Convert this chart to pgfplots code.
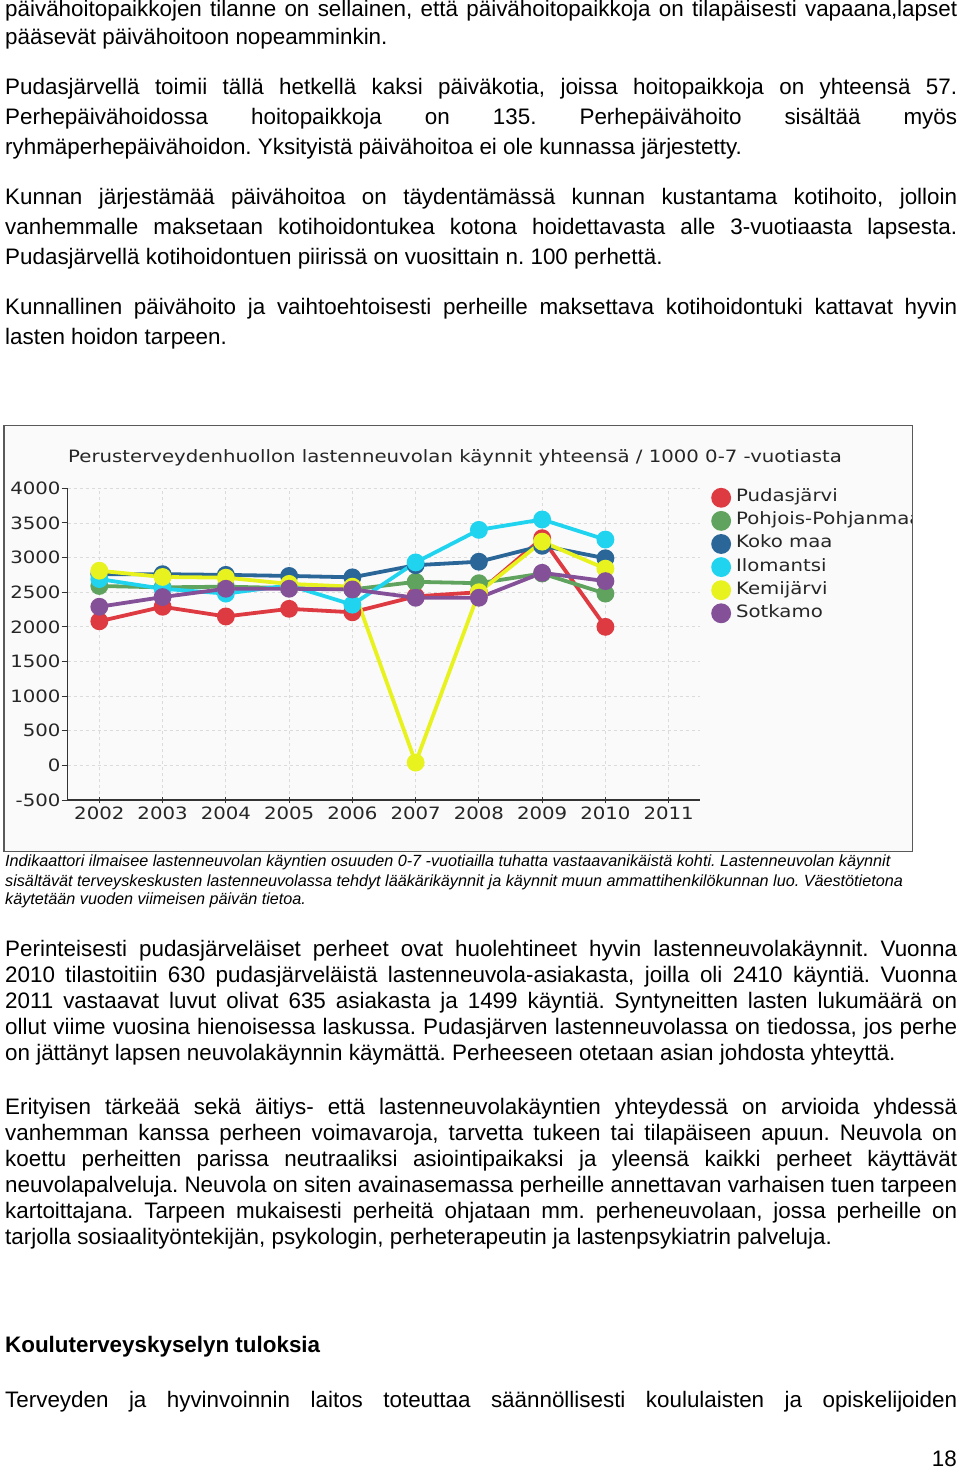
\documentclass[border=0pt]{standalone}
\usepackage{fontspec}
\setmainfont{Liberation Sans}
\newfontfamily\chartfont[FakeStretch=1.16]{DejaVu Sans}
\usepackage{pgfplots}
\pgfplotsset{compat=1.18}
\frenchspacing

\definecolor{cPud}{RGB}{222,58,66}
\definecolor{cPP}{RGB}{95,163,95}
\definecolor{cKoko}{RGB}{43,102,152}
\definecolor{cIlo}{RGB}{32,212,240}
\definecolor{cKemi}{RGB}{232,242,30}
\definecolor{cSot}{RGB}{132,80,152}

% body text: justified line (#1 = baseline y in px) and ragged line
\newcommand\bodyfont{\fontsize{22.4}{26}\selectfont}
\newcommand\jl[2]{\node[anchor=base west,inner sep=0pt,font=\bodyfont] at (5pt,-#1pt) {\makebox[952pt][s]{#2}};}
\newcommand\rl[2]{\node[anchor=base west,inner sep=0pt,font=\bodyfont] at (5pt,-#1pt) {#2};}
\newcommand\cl[2]{\node[anchor=base west,inner sep=0pt,font=\itshape\fontsize{16.2}{19}\selectfont] at (5pt,-#1pt) {#2};}
\newcommand\cf{\chartfont\fontsize{17}{17}\selectfont}

\begin{document}
\begin{tikzpicture}
\path[use as bounding box] (0pt,0pt) rectangle (960pt,-1469pt);

\jl{16.5}{päivähoitopaikkojen tilanne on sellainen, että päivähoitopaikkoja on tilapäisesti vapaana,lapset}
\rl{44.5}{pääsevät päivähoitoon nopeamminkin.}

\jl{94.5}{Pudasjärvellä toimii tällä hetkellä kaksi päiväkotia, joissa hoitopaikkoja on yhteensä 57.}
\jl{124.5}{Perhepäivähoidossa hoitopaikkoja on 135. Perhepäivähoito sisältää myös}
\rl{154.5}{ryhmäperhepäivähoidon. Yksityistä päivähoitoa ei ole kunnassa järjestetty.}

\jl{204.5}{Kunnan järjestämää päivähoitoa on täydentämässä kunnan kustantama kotihoito, jolloin}
\jl{234.5}{vanhemmalle maksetaan kotihoidontukea kotona hoidettavasta alle 3-vuotiaasta lapsesta.}
\rl{264.5}{Pudasjärvellä kotihoidontuen piirissä on vuosittain n. 100 perhettä.}

\jl{314.5}{Kunnallinen päivähoito ja vaihtoehtoisesti perheille maksettava kotihoidontuki kattavat hyvin}
\rl{344.5}{lasten hoidon tarpeen.}

% chart
\fill[black!2] (4pt,-425pt) rectangle (912pt,-852pt);
\begin{scope}
\clip (4pt,-425pt) rectangle (912pt,-852pt);
\node[font=\cf, anchor=base west, inner sep=0pt, text=black!85] at (68pt,-462pt)
  {Perusterveydenhuollon lastenneuvolan käynnit yhteensä / 1000 0-7 -vuotiasta};
\begin{axis}[
  at={(67.7pt,-800pt)}, anchor=south west,
  scale only axis, width=632.6pt, height=311.7pt,
  xmin=2001.5, xmax=2011.5, ymin=-500, ymax=4000,
  xtick={2002,2003,2004,2005,2006,2007,2008,2009,2010,2011},
  ytick={-500,0,500,1000,1500,2000,2500,3000,3500,4000},
  axis x line*=bottom, axis y line*=left,
  axis line style={-, black!80, line width=1.2pt},
  tick style={black!80, line width=1pt},
  xtick align=center, ytick align=outside, major tick length=6pt,
  grid=major, grid style={dash pattern=on 3pt off 3pt, black!14, line width=0.8pt},
  tick label style={font=\cf, text=black!85},
  /pgf/number format/assume math mode=true, /pgf/number format/1000 sep={},
  yticklabel style={inner sep=1pt},
  clip=false,
  every axis plot/.append style={line width=3.8pt, mark=*, mark size=7pt},
  legend image code/.code={\fill[#1] (0pt,0pt) circle (8pt);},
  legend style={at={(1.017,1.002)}, anchor=north west, draw=none, fill=none,
    inner sep=0pt, font=\cf, text=black!85, row sep=3.3pt, column sep=4pt,
    nodes={inner sep=1pt, text height=12pt, text depth=4pt}},
  legend cell align=left,
]
\addplot[color=cPud] coordinates {
  (2002,2080) (2003,2290) (2004,2150) (2005,2260) (2006,2210)
  (2007,2440) (2008,2500) (2009,3280) (2010,2000)};
\addlegendentry{Pudasjärvi}
\addplot[color=cPP] coordinates {
  (2002,2590) (2003,2570) (2004,2580) (2005,2560) (2006,2540)
  (2007,2650) (2008,2630) (2009,2770) (2010,2480)};
\addlegendentry{Pohjois-Pohjanmaa}
\addplot[color=cKoko] coordinates {
  (2002,2760) (2003,2760) (2004,2750) (2005,2735) (2006,2715)
  (2007,2890) (2008,2940) (2009,3170) (2010,2990)};
\addlegendentry{Koko maa}
\addplot[color=cIlo] coordinates {
  (2002,2690) (2003,2550) (2004,2480) (2005,2600) (2006,2320)
  (2007,2930) (2008,3400) (2009,3550) (2010,3260)};
\addlegendentry{Ilomantsi}
\addplot[color=cKemi] coordinates {
  (2002,2810) (2003,2720) (2004,2710) (2005,2620) (2006,2580)
  (2007,40) (2008,2500) (2009,3230) (2010,2840)};
\addlegendentry{Kemijärvi}
\addplot[color=cSot] coordinates {
  (2002,2290) (2003,2430) (2004,2550) (2005,2550) (2006,2540)
  (2007,2420) (2008,2420) (2009,2780) (2010,2660)};
\addlegendentry{Sotkamo}
\end{axis}
\end{scope}
\draw[black!65, line width=1.8pt] (4pt,-425.5pt) rectangle (912.5pt,-851.5pt);

\cl{866}{Indikaattori ilmaisee lastenneuvolan käyntien osuuden 0-7 -vuotiailla tuhatta vastaavanikäistä kohti. Lastenneuvolan käynnit}
\cl{886}{sisältävät terveyskeskusten lastenneuvolassa tehdyt lääkärikäynnit ja käynnit muun ammattihenkilökunnan luo. Väestötietona}
\cl{904}{käytetään vuoden viimeisen päivän tietoa.}

\jl{956.5}{Perinteisesti pudasjärveläiset perheet ovat huolehtineet hyvin lastenneuvolakäynnit. Vuonna}
\jl{982.5}{2010 tilastoitiin 630 pudasjärveläistä lastenneuvola-asiakasta, joilla oli 2410 käyntiä. Vuonna}
\jl{1008.5}{2011 vastaavat luvut olivat 635 asiakasta ja 1499 käyntiä. Syntyneitten lasten lukumäärä on}
\jl{1034.5}{ollut viime vuosina hienoisessa laskussa. Pudasjärven lastenneuvolassa on tiedossa, jos perhe}
\rl{1060.5}{on jättänyt lapsen neuvolakäynnin käymättä. Perheeseen otetaan asian johdosta yhteyttä.}

\jl{1114.5}{Erityisen tärkeää sekä äitiys- että lastenneuvolakäyntien yhteydessä on arvioida yhdessä}
\jl{1140.5}{vanhemman kanssa perheen voimavaroja, tarvetta tukeen tai tilapäiseen apuun. Neuvola on}
\jl{1166.5}{koettu perheitten parissa neutraaliksi asiointipaikaksi ja yleensä kaikki perheet käyttävät}
\jl{1192.5}{neuvolapalveluja. Neuvola on siten avainasemassa perheille annettavan varhaisen tuen tarpeen}
\jl{1218.5}{kartoittajana. Tarpeen mukaisesti perheitä ohjataan mm. perheneuvolaan, jossa perheille on}
\rl{1244.5}{tarjolla sosiaalityöntekijän, psykologin, perheterapeutin ja lastenpsykiatrin palveluja.}

\rl{1352.5}{\bfseries Kouluterveyskyselyn tuloksia}
\jl{1407.5}{Terveyden ja hyvinvoinnin laitos toteuttaa säännöllisesti koululaisten ja opiskelijoiden}
\node[anchor=base east,inner sep=0pt,font=\bodyfont] at (957pt,-1466.5pt) {18};
\end{tikzpicture}
\end{document}
